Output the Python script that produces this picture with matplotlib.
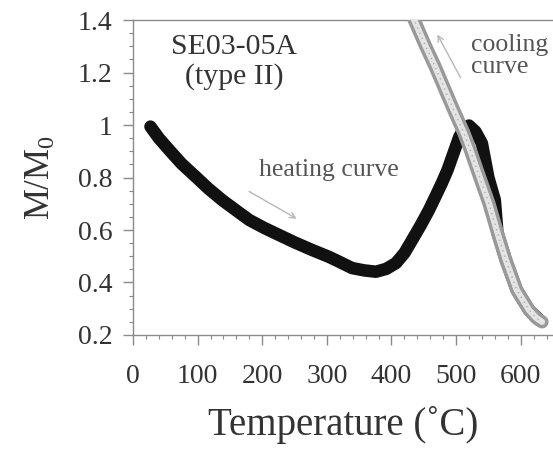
import matplotlib
matplotlib.use("Agg")
import matplotlib.pyplot as plt
from matplotlib.ticker import MultipleLocator, FuncFormatter

plt.rcParams['font.family'] = ['Liberation Serif', 'DejaVu Serif']
plt.rcParams['mathtext.fontset'] = 'custom'
plt.rcParams['mathtext.rm'] = 'Liberation Serif'
plt.rcParams['mathtext.it'] = 'Liberation Serif'

# thermomagnetic run, sample SE03-05A
heat_T = [27, 40, 56, 75, 97, 117, 138, 160, 180, 203, 226, 250, 277, 303,
          320, 339, 358, 376, 392, 407, 420, 432, 445, 458, 468, 478, 487,
          494, 505, 512, 520, 530, 540, 550, 560, 564, 577, 594, 613, 630]
heat_M = [0.994, 0.95, 0.905, 0.853, 0.803, 0.757, 0.714, 0.674, 0.638,
          0.608, 0.581, 0.553, 0.524, 0.498, 0.478, 0.455, 0.446, 0.441,
          0.452, 0.474, 0.512, 0.562, 0.617, 0.676, 0.727, 0.779, 0.83,
          0.879, 0.955, 0.985, 0.998, 0.975, 0.93, 0.80, 0.714, 0.59, 0.486,
          0.371, 0.295, 0.255]

cool_T = [430, 437, 452, 468, 481, 494, 512, 522, 531, 541, 551, 564, 577,
          594, 613, 624, 633]
cool_M = [1.43, 1.39, 1.305, 1.22, 1.145, 1.07, 0.97, 0.905, 0.84, 0.77,
          0.70, 0.59, 0.486, 0.371, 0.295, 0.265, 0.25]

xticks = [0, 100, 200, 300, 400, 500, 600]
yticks = [0.2, 0.4, 0.6, 0.8, 1.0, 1.2, 1.4]

txt = '#333333'
spine = '#8a8a8a'

fig = plt.figure(figsize=(5.53, 4.53), dpi=100)
ax = fig.add_axes([0.2405, 0.2605, 0.7595, 0.6953])

# heating run: dense filled symbols
ax.plot(heat_T, heat_M, color='#111111', lw=9, solid_capstyle='round',
        solid_joinstyle='round', zorder=3)

# cooling run: open symbols drawn as a hollow band
ax.plot(cool_T, cool_M, color='#999999', lw=9.5, solid_capstyle='round',
        solid_joinstyle='round', zorder=4)
ax.plot(cool_T, cool_M, color='#e4e4e4', lw=4.5, solid_capstyle='round',
        solid_joinstyle='round', zorder=5)
ax.plot(cool_T, cool_M, color='#b0b0b0', lw=1, ls=(0, (1, 3)), zorder=6)

ax.set_xlim(0, 650)
ax.set_ylim(0.2, 1.4)
ax.set_xticks(xticks)
ax.set_yticks(yticks)
ax.xaxis.set_minor_locator(MultipleLocator(20))
ax.yaxis.set_minor_locator(MultipleLocator(0.05))
ax.yaxis.set_major_formatter(FuncFormatter(lambda v, p: '%g' % round(v, 2)))

ax.tick_params(which='major', direction='out', length=7, width=1,
               color=spine, labelsize=20, labelcolor=txt)
ax.tick_params(axis='x', which='major', pad=14)
ax.tick_params(axis='y', which='major', pad=8)
ax.tick_params(which='minor', direction='out', length=3, width=0.8,
               color=spine)

for s in ['left', 'bottom', 'top']:
    ax.spines[s].set_color(spine)
    ax.spines[s].set_linewidth(1)
ax.spines['right'].set_visible(False)

ax.set_xlabel('Temperature (˚C)', fontsize=28, color=txt, labelpad=12)
ax.set_ylabel(r'M/M$_{\rm 0}$', fontsize=25, color=txt, labelpad=14)

ax.text(157, 1.345, 'SE03-05A\n(type II)', fontsize=21.5, color=txt,
        ha='center', va='top', linespacing=1.15)
ax.text(195, 0.83, 'heating curve', fontsize=18.5, color='#555555',
        ha='left', va='center')
ax.text(523, 1.345, 'cooling\ncurve', fontsize=18.5, color='#555555',
        ha='left', va='top', linespacing=0.95)

arrow = dict(arrowstyle='->', color='#b8b8b8', lw=1.0)
ax.annotate('', xy=(257, 0.638), xytext=(176, 0.752), arrowprops=arrow)
ax.annotate('', xy=(469, 1.354), xytext=(509, 1.171), arrowprops=arrow)

fig.savefig('out.png', dpi=100)
